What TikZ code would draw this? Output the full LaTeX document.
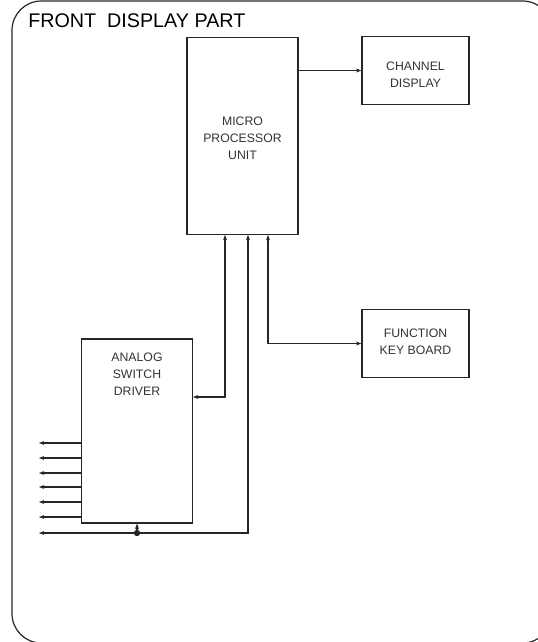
\documentclass[tikz,border=0pt]{standalone}
\usepackage{fontspec}
\setmainfont{Liberation Sans}
\usetikzlibrary{arrows.meta}
\begin{document}
\begin{tikzpicture}[x=0.75pt,y=-0.75pt,
  ln/.style={line width=0.9pt, draw=black!85},
  blk/.style={ln, draw, rectangle, inner sep=0pt},
  lbl/.style={font=\fontsize{9.2}{12.8}\selectfont, text=black!80, align=center},
  arr/.style={ln, -{Stealth[length=4pt,width=3pt]}},
  arrb/.style={ln, {Stealth[length=4pt,width=3pt]}-{Stealth[length=4pt,width=3pt]}}]
\useasboundingbox (0,0) rectangle (537,642);
% outer frame
\draw[ln, rounded corners=22] (12,1) rectangle (552,643);
\node[anchor=base west, font=\fontsize{14.8}{18}\selectfont, inner sep=0pt] (title) at (28,28) {FRONT\ \ DISPLAY PART};
% blocks
\node[blk, minimum width=111*0.75pt, minimum height=197*0.75pt] (mpu) at (242.5,136) {};
\node[lbl] (mpuT) at (242.5,138) {MICRO\\PROCESSOR\\UNIT};
\node[blk, minimum width=107*0.75pt, minimum height=68*0.75pt] (ch) at (415.5,70.5) {};
\node[lbl] (chT) at (415.5,75) {CHANNEL\\DISPLAY};
\node[blk, minimum width=107*0.75pt, minimum height=68*0.75pt] (fk) at (415.5,343.5) {};
\node[lbl] (fkT) at (415.5,342) {FUNCTION\\KEY BOARD};
\node[blk, minimum width=111*0.75pt, minimum height=184*0.75pt] (asd) at (137,431) {};
\node[lbl] (asdT) at (137,374) {ANALOG\\SWITCH\\DRIVER};
% coordinates
\coordinate (m1) at (225,235);
\coordinate (m2) at (248,235);
\coordinate (m3) at (268,235);
\coordinate (dot) at (137,533);
\coordinate (busL) at (39,533);
% connections
\draw[arr] (mpu.east |- ch.west) -- (ch.west);
\draw[arrb] (fk.west) -| (m3);
\draw[arrb] (m2) -- (248,533) -- (busL);
\draw[arrb] (193,397) -| (m1);
\draw[arr] (dot) -- (asd.south);
\fill[black!85] (dot) circle (3.2);
\foreach \yy in {443,458,473,487,502,517}
  \draw[arr] (81,\yy) -- (39,\yy);
\end{tikzpicture}
\end{document}
